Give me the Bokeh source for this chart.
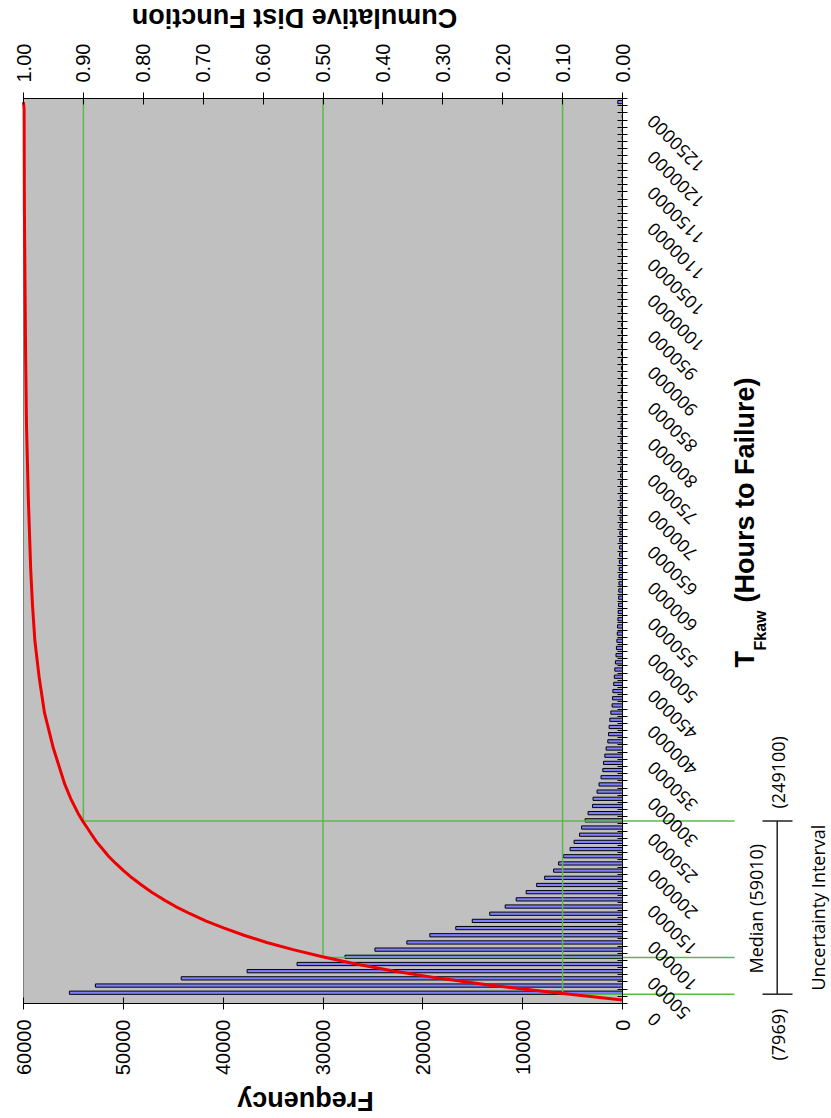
import math
from bokeh.plotting import figure
from bokeh.models import (Range1d, LinearAxis, FixedTicker, ColumnDataSource, Label,
                          LabelSet, CustomJSTickFormatter, NumeralTickFormatter)
from bokeh.core.properties import value
from bokeh.embed import file_html
from bokeh.resources import INLINE

# ---------------- data ----------------
# histogram categories (hours to failure, bin label)
hours = list(range(0, 1260000, 10000))
freq = [
    0,
    55400, 52800, 44200, 37600, 32600, 27800, 24800, 21600, 19300, 16700,
    15050, 13300, 11750, 10650, 9650, 8600, 7800, 6900, 6400, 5900,
    5250, 4850, 4300, 4100, 3750, 3450, 3000, 2950, 2550, 2350,
    2150, 1970, 1900, 1770, 1640, 1470, 1400, 1340, 1270, 1170,
    1040, 1000, 960, 880, 820, 770, 710, 650, 610, 560,
    520, 490, 460, 430, 400,
    385, 370, 355, 340, 325, 312, 300, 288, 276, 265,
    254, 244, 234, 225, 216, 207, 199, 191, 183, 176,
    169, 162, 156, 150, 144, 138, 132, 127, 122, 117,
    112, 108, 104, 100, 96, 92, 88, 85, 82, 79,
    76, 73, 70, 67, 64, 62, 60, 58, 56, 54,
    52, 50, 48, 46, 44, 42, 41, 40, 38, 37,
    36, 35, 34, 33, 32, 31, 30, 29, 28,
    470,
]
assert len(freq) == len(hours)

# cumulative distribution function
cdf_hours = [0, 10000, 20000, 30000, 40000, 50000, 60000, 70000, 80000, 90000,
             100000, 110000, 120000, 130000, 140000, 150000, 160000, 170000, 180000,
             190000, 200000, 210000, 220000, 230000, 240000, 250000, 260000, 280000,
             300000, 350000, 400000, 450000, 500000, 550000, 600000, 700000, 800000,
             900000, 1000000, 1100000, 1240000, 1250000]
cdf_vals = [0.0, 0.111, 0.217, 0.305, 0.380, 0.445, 0.501, 0.550, 0.594, 0.632,
            0.665, 0.696, 0.722, 0.746, 0.767, 0.786, 0.803, 0.819, 0.833,
            0.846, 0.858, 0.868, 0.878, 0.886, 0.894, 0.902, 0.909, 0.921,
            0.931, 0.950, 0.965, 0.974, 0.981, 0.985, 0.988, 0.992, 0.995,
            0.9965, 0.9975, 0.9985, 0.999, 1.0]

quantile_levels = [0.10, 0.50, 0.90]
quantile_hours = [7969, 59010, 249100]
quantile_texts = ["(7969)", "Median (59010)", "(249100)"]

freq_ticks = [0, 10000, 20000, 30000, 40000, 50000, 60000]
cdf_ticks = [0.0, 0.1, 0.2, 0.3, 0.4, 0.5, 0.6, 0.7, 0.8, 0.9, 1.0]
hour_label_values = list(range(0, 1250001, 50000))

# ---------------- geometry ----------------
CW, CH = 831, 1118                   # canvas
PL, PT, PW, PH = 23, 98, 599, 905    # plot area inside canvas
F_MAX = 60000
H_LO, H_HI = -5000, 1255000
f_per_px = F_MAX / PW
c_per_px = 1.0 / PW
h_per_px = (H_HI - H_LO) / PH

x_range = Range1d(F_MAX + PL * f_per_px, F_MAX - (CW - PL) * f_per_px)
cdf_range = Range1d(1.0 + PL * c_per_px, 1.0 - (CW - PL) * c_per_px)
y_range = Range1d(H_HI - (CH - PT) * h_per_px, H_HI + PT * h_per_px)

p = figure(width=CW, height=CH, x_range=x_range, y_range=y_range,
           y_axis_location="right", output_backend="svg", toolbar_location=None,
           min_border=0, title=None,
           background_fill_color="white", border_fill_color="white",
           outline_line_color=None)
p.extra_x_ranges = {"cdf": cdf_range}
p.grid.visible = False

FL, FT = PL, PT  # plot-area left/top in picture pixels


def cx(px):
    return 1.0 - (px - FL) * c_per_px


def hy(py):
    return H_HI - (py - FT) * h_per_px


TICK_FONT = "Liberation Sans"

xa = p.xaxis[0]
xa.ticker = FixedTicker(ticks=freq_ticks)
xa.formatter = NumeralTickFormatter(format="0")
xa.major_label_orientation = math.pi / 2
xa.fixed_location = H_LO
xa.bounds = (0, F_MAX)

ta = LinearAxis(x_range_name="cdf", ticker=FixedTicker(ticks=cdf_ticks),
                formatter=NumeralTickFormatter(format="0.00"))
ta.major_label_orientation = math.pi / 2
ta.fixed_location = H_HI
ta.bounds = (0.0, 1.0)
p.add_layout(ta, "above")

for ax in (xa, ta):
    ax.major_tick_in = 6
    ax.major_tick_out = 6
    ax.minor_tick_line_color = None
    ax.major_label_standoff = 10
    ax.major_label_text_font = TICK_FONT
    ax.major_label_text_font_size = "20px"
    ax.major_label_text_color = "black"
    ax.axis_line_color = "black"
    ax.major_tick_line_color = "black"

ya = p.yaxis[0]
ya.ticker = FixedTicker(ticks=[h - 5000 for h in hours] + [H_HI])
ya.formatter = CustomJSTickFormatter(code="return ''")
ya.fixed_location = 0
ya.bounds = (H_LO, H_HI)
ya.major_tick_in = 5
ya.major_tick_out = 5
ya.minor_tick_line_color = None
ya.axis_line_color = "black"
ya.major_tick_line_color = "black"

# ---------------- marks ----------------
# plot area background
p.quad(left=[F_MAX], right=[0], bottom=[H_LO], top=[H_HI],
       fill_color="#c0c0c0", line_color="#808080", line_width=1)

src = ColumnDataSource(dict(hours=hours, freq=freq))
p.hbar(y="hours", left=0, right="freq", height=4500, source=src,
       fill_color="#8080ff", line_color="black", line_width=1)

GREEN = "#5db84a"
ext = cx(734)
top_vals = [H_HI] * len(quantile_levels)
p.segment(x0=quantile_levels, y0=top_vals, x1=quantile_levels, y1=quantile_hours,
          x_range_name="cdf", line_color=GREEN, line_width=1.5)
p.segment(x0=quantile_levels, y0=quantile_hours, x1=[ext] * 3, y1=quantile_hours,
          x_range_name="cdf", line_color=GREEN, line_width=1.5)

p.line(x=cdf_vals, y=cdf_hours, x_range_name="cdf", line_color="#ee0000", line_width=3)

# uncertainty bracket
bx, b0, b1 = cx(776.7), cx(762), cx(792)
lo_h, hi_h = quantile_hours[0], quantile_hours[2]
p.segment(x0=[bx, b0, b0], y0=[lo_h, lo_h, hi_h], x1=[bx, b1, b1], y1=[hi_h, lo_h, hi_h],
          x_range_name="cdf", line_color="#222222", line_width=1.5)

# hour tick labels (rotated, offset like the original)
shift = 16 * h_per_px
lab_src = ColumnDataSource(dict(y=[v - shift for v in hour_label_values],
                                text=[str(v) for v in hour_label_values]))
p.add_layout(LabelSet(x=cx(650), y="y", text="text", source=lab_src, x_range_name="cdf",
                      angle=3 * math.pi / 4, text_align="right", text_baseline="middle",
                      text_font=value("Open Sans"), text_font_size=value("18px"),
                      text_color="black"))

# axis titles
BOLD = dict(text_font="Liberation Sans", text_font_style="bold", text_color="black")
p.add_layout(Label(x=cx(305), y=hy(1100), x_range_name="cdf", text="Frequency",
                   angle=math.pi, text_align="center", text_baseline="middle",
                   text_font_size="27px", **BOLD))
p.add_layout(Label(x=cx(294), y=hy(17.5), x_range_name="cdf", text="Cumulative Dist Function",
                   angle=math.pi, text_align="center", text_baseline="middle",
                   text_font_size="27px", **BOLD))
p.add_layout(Label(x=cx(744), y=hy(667), x_range_name="cdf", text="T",
                   angle=math.pi / 2, text_align="left", text_baseline="alphabetic",
                   text_font_size="27px", **BOLD))
p.add_layout(Label(x=cx(760), y=hy(650), x_range_name="cdf", text="Fkaw",
                   angle=math.pi / 2, text_align="left", text_baseline="alphabetic",
                   text_font_size="16px", **BOLD))
p.add_layout(Label(x=cx(744), y=hy(602), x_range_name="cdf", text="(Hours to Failure)",
                   angle=math.pi / 2, text_align="left", text_baseline="alphabetic",
                   text_font_size="27px", **BOLD))

# quantile annotations
NOTE = dict(text_font="Open Sans", text_font_size="18px", text_color="black",
            angle=math.pi / 2, text_align="left", text_baseline="middle")
note_pos = [(777.5, 1060), (755, 973), (777.5, 808)]
for txt, (px, py) in zip(quantile_texts, note_pos):
    p.add_layout(Label(x=cx(px), y=hy(py), x_range_name="cdf", text=txt, **NOTE))
p.add_layout(Label(x=cx(817.5), y=hy(990), x_range_name="cdf",
                   text="Uncertainty Interval", **NOTE))

open("out.html", "w").write(file_html(p, INLINE))
